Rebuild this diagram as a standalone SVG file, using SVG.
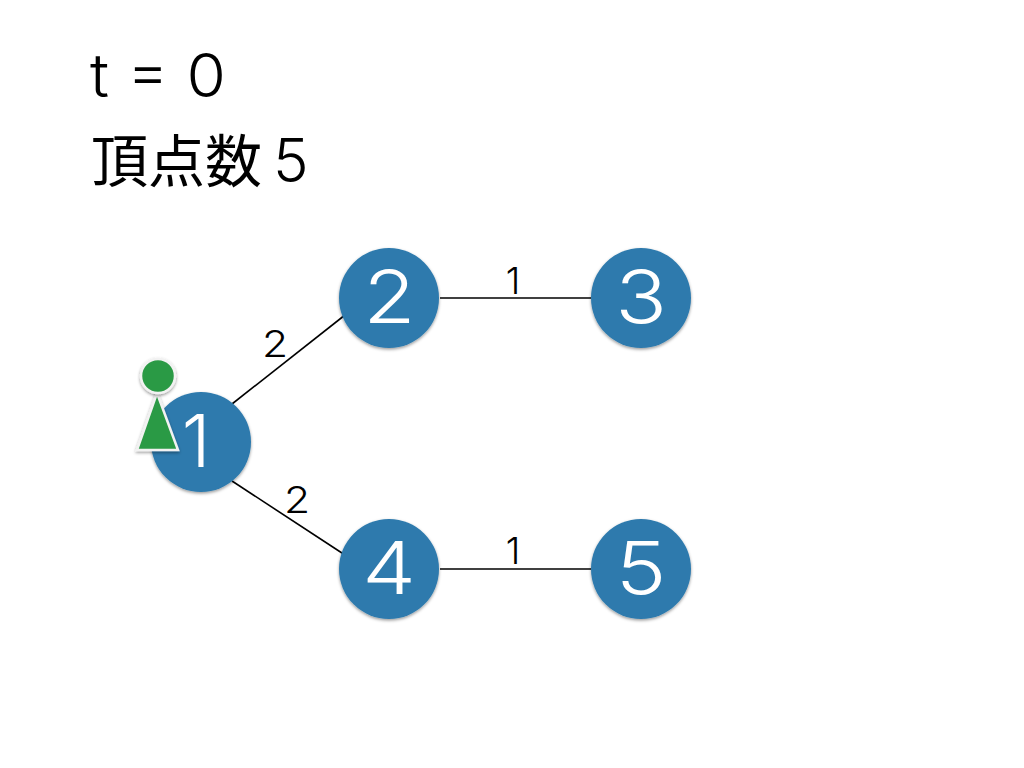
<svg xmlns="http://www.w3.org/2000/svg" width="1024" height="768" viewBox="0 0 1024 768">
<defs>
<filter id="sh" x="-20%" y="-20%" width="140%" height="140%"><feDropShadow dx="0" dy="1.5" stdDeviation="1.5" flood-color="#000" flood-opacity="0.4"/></filter>
</defs>
<style>
.n{fill:#2d7aad;filter:url(#sh)}
.nt{font-family:"Inter","Noto Sans",sans-serif;font-weight:300;font-size:73px;fill:#fff;text-anchor:middle}
.e{stroke:#000;stroke-width:1.6;fill:none}
.el{font-family:"Inter","Noto Sans",sans-serif;font-weight:300;font-size:37px;fill:#000;text-anchor:middle}
.h{font-family:"Inter","Noto Sans CJK JP",sans-serif;font-weight:300;font-size:58px;fill:#000}
.p{fill:#2b9a45;stroke:#f2f2f2;stroke-width:2.5;filter:url(#sh)}
</style>
<rect width="1024" height="768" fill="#fff"/>
<text class="h" transform="translate(90 96.500) scale(1.100 1.030)">t = 0</text>
<text class="h" x="91" y="182" style="font-size:57px;font-weight:400">頂点数<tspan dx="11" style="font-weight:300;font-size:60px">5</tspan></text>
<g id="connectors">
<line class="e" x1="232" y1="404" x2="345" y2="315"/>
<line class="e" x1="232" y1="481" x2="345" y2="555"/>
<line class="e" x1="440" y1="298" x2="591" y2="298"/>
<line class="e" x1="440" y1="569" x2="591" y2="569"/>
<text class="el" transform="translate(275 357) scale(1.15 1)">2</text>
<text class="el" transform="translate(297 513) scale(1.15 1)">2</text>
<text class="el" x="513" y="294">1</text>
<text class="el" x="513" y="564">1</text>
</g>
<g id="node1"><circle class="n" cx="201" cy="442" r="50"/><text class="nt" x="196" y="467">1</text></g>
<g id="node2"><circle class="n" cx="389" cy="298" r="50"/><text class="nt" transform="translate(389.500 323) scale(1.170 1)">2</text></g>
<g id="node3"><circle class="n" cx="641" cy="298" r="50"/><text class="nt" transform="translate(641 323) scale(1.170 1)">3</text></g>
<g id="node4"><circle class="n" cx="389" cy="569" r="50"/><text class="nt" transform="translate(389 594) scale(1.170 1)">4</text></g>
<g id="node5"><circle class="n" cx="641" cy="569" r="50"/><text class="nt" transform="translate(641 594) scale(1.170 1)">5</text></g>
<g id="pawn"><polygon class="p" points="157,393 178,450 137,450"/><circle class="p" cx="158" cy="376" r="17"/></g>
</svg>
